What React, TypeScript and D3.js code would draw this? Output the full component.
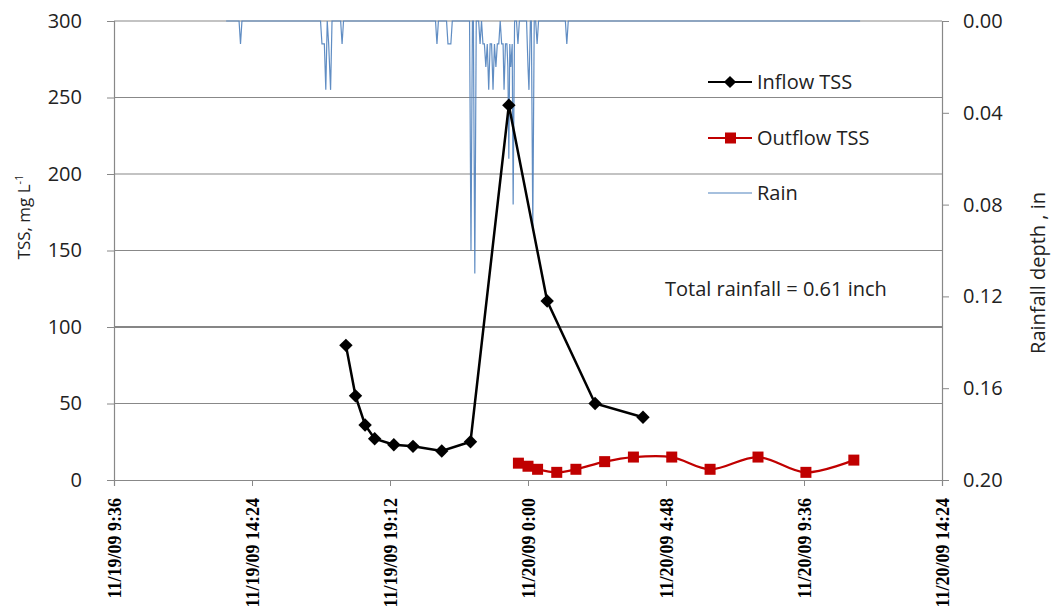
import React from 'react';
import * as d3 from 'd3';

const xTickLabels = [
  '11/19/09 9:36', '11/19/09 14:24', '11/19/09 19:12', '11/20/09 0:00',
  '11/20/09 4:48', '11/20/09 9:36', '11/20/09 14:24',
];
const tssTicks = [0, 50, 100, 150, 200, 250, 300];
const rainTicks = [0, 0.04, 0.08, 0.12, 0.16, 0.2];

const inflowTimes = [
  '11/19/09 17:40', '11/19/09 18:00', '11/19/09 18:20', '11/19/09 18:40',
  '11/19/09 19:20', '11/19/09 20:00', '11/19/09 21:00', '11/19/09 22:00',
  '11/19/09 23:20', '11/20/09 0:40', '11/20/09 2:20', '11/20/09 4:00',
];
const inflowTss = [88, 55, 36, 27, 23, 22, 19, 25, 245, 117, 50, 41];

const outflowTimes = [
  '11/19/09 23:40', '11/20/09 0:00', '11/20/09 0:20', '11/20/09 1:00',
  '11/20/09 1:40', '11/20/09 2:40', '11/20/09 3:40', '11/20/09 5:00',
  '11/20/09 6:20', '11/20/09 8:00', '11/20/09 9:40', '11/20/09 11:20',
];
const outflowTss = [11, 9, 7, 5, 7, 12, 15, 15, 7, 15, 5, 13];

// rain gauge record (in), zero readings kept where the gauge logged nothing
const rainTimes = [
  '11/19/09 13:30', '11/19/09 13:57', '11/19/09 14:00', '11/19/09 14:03',
  '11/19/09 16:47', '11/19/09 16:50', '11/19/09 16:52', '11/19/09 16:55', '11/19/09 16:58',
  '11/19/09 17:01', '11/19/09 17:04', '11/19/09 17:08', '11/19/09 17:11',
  '11/19/09 17:29', '11/19/09 17:32', '11/19/09 17:35',
  '11/19/09 20:47', '11/19/09 20:50', '11/19/09 20:53',
  '11/19/09 21:10', '11/19/09 21:13', '11/19/09 21:16', '11/19/09 21:19', '11/19/09 21:22',
  '11/19/09 21:58', '11/19/09 22:01', '11/19/09 22:04', '11/19/09 22:06', '11/19/09 22:09',
  '11/19/09 22:12', '11/19/09 22:17', '11/19/09 22:20', '11/19/09 22:23', '11/19/09 22:26',
  '11/19/09 22:29', '11/19/09 22:32', '11/19/09 22:35', '11/19/09 22:38', '11/19/09 22:41',
  '11/19/09 22:44', '11/19/09 22:47', '11/19/09 22:50', '11/19/09 22:53', '11/19/09 22:56',
  '11/19/09 22:59', '11/19/09 23:02', '11/19/09 23:05', '11/19/09 23:08', '11/19/09 23:10',
  '11/19/09 23:13', '11/19/09 23:16', '11/19/09 23:18', '11/19/09 23:20', '11/19/09 23:22',
  '11/19/09 23:24', '11/19/09 23:27', '11/19/09 23:29', '11/19/09 23:32', '11/19/09 23:36',
  '11/19/09 23:39', '11/19/09 23:42', '11/19/09 23:57', '11/20/09 0:00', '11/20/09 0:02',
  '11/20/09 0:05', '11/20/09 0:07', '11/20/09 0:10', '11/20/09 0:13', '11/20/09 0:16',
  '11/20/09 0:19', '11/20/09 0:22', '11/20/09 1:18', '11/20/09 1:21', '11/20/09 1:24',
  '11/20/09 11:33',
];
const rainDepth = [
  0, 0, 0.01, 0,
  0, 0.01, 0.01, 0.01, 0.03,
  0, 0.01, 0.03, 0,
  0, 0.01, 0,
  0, 0.01, 0,
  0, 0.01, 0.01, 0.01, 0,
  0, 0.10, 0, 0, 0.11,
  0, 0, 0.01, 0, 0.01,
  0.01, 0.02, 0.01, 0.03, 0.01,
  0.01, 0.03, 0.01, 0.02, 0.01,
  0.01, 0, 0.01, 0.01, 0.03,
  0.01, 0.01, 0.02, 0.06, 0.01,
  0.02, 0.01, 0.08, 0, 0,
  0.01, 0, 0, 0.02, 0.03,
  0, 0, 0.09, 0, 0,
  0.01, 0, 0, 0.01, 0,
  0,
];

const parse = d3.timeParse('%m/%d/%y %H:%M');
const sans = '"Open Sans", "Noto Sans", sans-serif';

export default function App() {
  const svgRef = React.useRef<SVGSVGElement | null>(null);

  React.useEffect(() => {
    document.body.style.margin = '0';
    const width = 1052;
    const height = 612;
    const margin = { top: 21, right: 110, bottom: 132, left: 114 };
    const innerW = width - margin.left - margin.right;
    const innerH = height - margin.top - margin.bottom;

    const svg = d3.select(svgRef.current);
    svg.attr('width', width).attr('height', height);
    svg.selectAll('*').remove();

    const g = svg.append('g').attr('transform', `translate(${margin.left},${margin.top})`);

    const xTicks = xTickLabels.map(s => parse(s) as Date);
    const x = d3.scaleTime().domain([xTicks[0], xTicks[xTicks.length - 1]]).range([0, innerW]);
    const yTss = d3.scaleLinear().domain([0, 300]).range([innerH, 0]);
    const yRain = d3.scaleLinear().domain([0, 0.2]).range([0, innerH]);

    // Grid
    g.append('g')
      .selectAll('line')
      .data(tssTicks.filter(d => d > 0))
      .join('line')
      .attr('x1', 0)
      .attr('x2', innerW)
      .attr('y1', d => yTss(d))
      .attr('y2', d => yTss(d))
      .attr('stroke', d => (d === 100 ? '#5e5e5e' : '#888'))
      .attr('stroke-width', d => (d === 100 ? 1.6 : 1.2));

    // Axes
    const xAxis = d3.axisBottom<Date>(x)
      .tickValues(xTicks)
      .tickSize(6)
      .tickFormat((_d, i) => xTickLabels[i]);
    g.append('g')
      .attr('transform', `translate(0,${innerH})`)
      .call(xAxis as any)
      .call(a => a.select('.domain').attr('stroke', '#888').attr('stroke-width', 1.2))
      .call(a => a.selectAll('line').attr('stroke', '#888'))
      .call(a => a.selectAll('text')
        .attr('transform', 'rotate(-90)')
        .attr('x', -18)
        .attr('y', 0)
        .attr('dy', '0.36em')
        .attr('text-anchor', 'end')
        .attr('fill', '#000')
        .attr('font-family', '"Liberation Serif", serif')
        .attr('font-weight', 'bold')
        .attr('font-size', 18));

    g.append('g')
      .call(d3.axisLeft(yTss).tickValues(tssTicks).tickSize(7).tickPadding(25) as any)
      .call(a => a.select('.domain').attr('stroke', '#888').attr('stroke-width', 1.2))
      .call(a => a.selectAll('line').attr('stroke', '#888'))
      .call(a => a.selectAll('text').attr('fill', '#222').attr('font-family', sans).attr('font-size', 20));

    g.append('g')
      .attr('transform', `translate(${innerW},0)`)
      .call(d3.axisRight(yRain).tickValues(rainTicks).tickSize(7).tickPadding(14)
        .tickFormat(d3.format('.2f')) as any)
      .call(a => a.select('.domain').attr('stroke', '#888').attr('stroke-width', 1.2))
      .call(a => a.selectAll('line').attr('stroke', '#888'))
      .call(a => a.selectAll('text').attr('fill', '#222').attr('font-family', sans).attr('font-size', 20));

    // Axis titles
    const lt = svg.append('text')
      .attr('transform', `translate(30,217) rotate(-90)`)
      .attr('text-anchor', 'middle')
      .attr('font-family', sans)
      .attr('font-size', 17)
      .attr('fill', '#222');
    lt.append('tspan').text('TSS, mg L');
    lt.append('tspan').attr('dy', -7).attr('font-size', 11).text('-1');

    svg.append('text')
      .attr('transform', `translate(1045,273) rotate(-90)`)
      .attr('text-anchor', 'middle')
      .attr('font-family', sans)
      .attr('font-size', 20)
      .attr('fill', '#222')
      .text('Rainfall depth , in');

    // Rain
    const rain = rainTimes.map((t, i) => ({ t: parse(t) as Date, v: rainDepth[i] }));
    const rainLine = d3.line<{ t: Date; v: number }>().x(d => x(d.t)).y(d => yRain(d.v));
    g.append('path')
      .datum(rain)
      .attr('fill', 'none')
      .attr('stroke', '#4F81BD')
      .attr('stroke-width', 1.2)
      .attr('stroke-opacity', 0.9)
      .attr('d', rainLine);

    // Inflow
    const inflow = inflowTimes.map((t, i) => ({ t: parse(t) as Date, v: inflowTss[i] }));
    const tssLine = d3.line<{ t: Date; v: number }>().x(d => x(d.t)).y(d => yTss(d.v));
    g.append('path')
      .datum(inflow)
      .attr('fill', 'none')
      .attr('stroke', '#000')
      .attr('stroke-width', 2.5)
      .attr('d', tssLine);
    g.append('g')
      .selectAll('path')
      .data(inflow)
      .join('path')
      .attr('transform', d => `translate(${x(d.t)},${yTss(d.v)}) rotate(45)`)
      .attr('d', d3.symbol().type(d3.symbolSquare).size(90)() as string)
      .attr('fill', '#000');

    // Outflow
    const outflow = outflowTimes.map((t, i) => ({ t: parse(t) as Date, v: outflowTss[i] }));
    g.append('path')
      .datum(outflow)
      .attr('fill', 'none')
      .attr('stroke', '#C00000')
      .attr('stroke-width', 2.2)
      .attr('d', tssLine.curve(d3.curveCatmullRom)(outflow) as string);
    g.append('g')
      .selectAll('rect')
      .data(outflow)
      .join('rect')
      .attr('x', d => x(d.t) - 5.5)
      .attr('y', d => yTss(d.v) - 5.5)
      .attr('width', 11)
      .attr('height', 11)
      .attr('fill', '#C00000');

    // Legend
    const legend = svg.append('g').attr('font-family', sans).attr('font-size', 20).attr('fill', '#222');
    const items = [
      { name: 'Inflow TSS', color: '#000', y: 82, mark: 'diamond' },
      { name: 'Outflow TSS', color: '#C00000', y: 138, mark: 'square' },
      { name: 'Rain', color: '#4F81BD', y: 193, mark: 'none' },
    ];
    items.forEach(it => {
      const lg = legend.append('g').attr('transform', `translate(708,${it.y})`);
      lg.append('line').attr('x1', 0).attr('x2', 44).attr('stroke', it.color)
        .attr('stroke-width', it.mark === 'none' ? 1.2 : 2.2);
      if (it.mark === 'diamond') {
        lg.append('path').attr('transform', 'translate(22,0) rotate(45)')
          .attr('d', d3.symbol().type(d3.symbolSquare).size(75)() as string).attr('fill', it.color);
      } else if (it.mark === 'square') {
        lg.append('rect').attr('x', 17).attr('y', -5.5).attr('width', 11).attr('height', 11).attr('fill', it.color);
      }
      lg.append('text').attr('x', 49).attr('dy', '0.35em').text(it.name);
    });

    svg.append('text')
      .attr('x', 665)
      .attr('y', 289)
      .attr('dy', '0.35em')
      .attr('font-family', sans)
      .attr('font-size', 20)
      .attr('fill', '#222')
      .text('Total rainfall = 0.61 inch');
  }, []);

  return (
    <div style={{ width: 1052, height: 612 }}>
      <svg ref={svgRef} style={{ display: 'block' }} />
    </div>
  );
}
